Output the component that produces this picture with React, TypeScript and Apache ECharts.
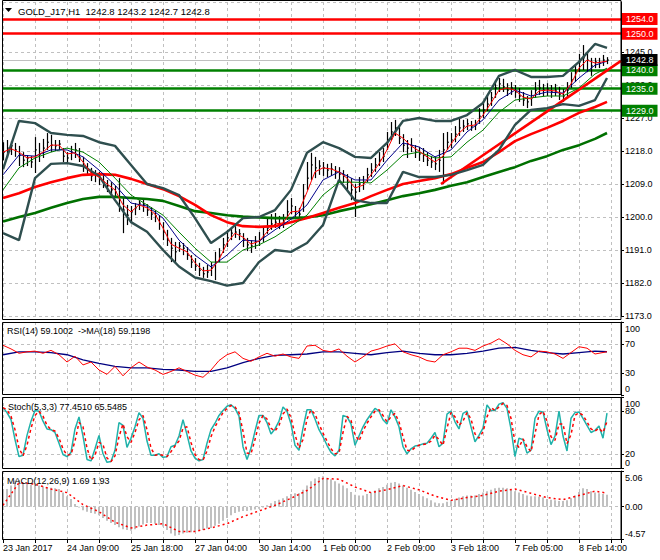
import React, { useEffect, useRef } from "react";
import * as echarts from "echarts";

const FONT = '"Liberation Sans", Arial, sans-serif';
const GRID_COLOR = "#c0c0c0";
const LAST_BAR = 302;
const X_MAX = 309;

const TIME_LABELS = ["23 Jan 2017", "24 Jan 09:00", "25 Jan 18:00", "27 Jan 04:00", "30 Jan 14:00", "1 Feb 00:00", "2 Feb 09:00", "3 Feb 18:00", "7 Feb 05:00", "8 Feb 14:00"];
const TIME_LABEL_EVERY = 32;

// H1 bars, one every 2 bars
const barHigh = [
  1220.4,1221.0,1220.7,1220.2,1219.4,1217.7,1216.9,1216.6,1221.8,1220.2,
  1221.3,1222.9,1222.4,1221.0,1221.0,1218.8,1217.7,1219.4,1220.2,1218.8,
  1216.4,1214.7,1213.4,1212.8,1212.3,1211.5,1210.1,1209.5,1208.5,1210.6,
  1205.2,1203.3,1203.0,1203.8,1204.6,1204.9,1203.5,1202.7,1201.9,1200.5,
  1198.6,1196.5,1194.3,1193.2,1193.2,1192.9,1191.8,1189.6,1188.8,1187.5,
  1186.4,1186.9,1187.7,1190.5,1191.5,1194.3,1196.5,1197.3,1197.5,1196.7,
  1195.6,1194.3,1193.7,1194.8,1195.9,1197.0,1199.7,1200.8,1201.1,1200.3,
  1200.8,1204.6,1205.2,1203.0,1202.5,1209.0,1215.0,1217.5,1216.4,1215.5,
  1215.0,1214.5,1214.7,1213.9,1213.6,1212.8,1211.7,1210.6,1209.0,1210.9,
  1211.2,1213.4,1214.7,1216.1,1217.7,1218.8,1223.2,1225.9,1226.5,1224.8,
  1222.6,1221.0,1221.5,1219.6,1219.1,1218.8,1217.7,1216.6,1216.4,1218.3,
  1222.9,1223.2,1222.9,1224.8,1227.0,1226.5,1226.7,1226.2,1226.5,1229.7,
  1231.6,1233.0,1234.1,1237.4,1237.9,1237.7,1236.5,1236.8,1236.0,1235.2,
  1234.1,1233.0,1234.6,1236.8,1237.4,1236.3,1236.5,1236.0,1236.3,1235.5,
  1234.9,1236.8,1239.5,1241.7,1244.5,1246.9,1245.0,1243.4,1243.4,1243.4,
  1244.2,1243.6,
];
const barLow = [
  1215.5,1216.1,1216.9,1216.4,1213.9,1213.6,1213.9,1213.4,1212.0,1215.0,
  1216.1,1218.3,1217.7,1218.0,1218.3,1215.0,1214.7,1215.5,1216.1,1215.0,
  1212.3,1211.2,1209.8,1209.5,1208.7,1207.9,1206.8,1205.7,1205.2,1201.4,
  1195.6,1197.8,1198.6,1200.5,1201.9,1201.4,1200.3,1199.2,1198.6,1196.5,
  1193.7,1192.1,1187.7,1187.5,1190.5,1189.6,1188.3,1186.1,1185.3,1183.9,
  1183.4,1183.4,1183.9,1182.8,1187.7,1190.2,1191.8,1193.7,1194.3,1193.7,
  1191.8,1190.7,1190.2,1191.3,1192.1,1193.2,1195.4,1196.5,1197.0,1196.7,
  1197.0,1199.2,1200.8,1199.4,1199.2,1201.4,1207.4,1210.1,1210.6,1211.5,
  1211.2,1210.9,1211.2,1210.4,1209.5,1209.3,1207.4,1204.6,1200.0,1206.8,
  1207.4,1209.5,1210.9,1212.3,1213.9,1215.0,1218.3,1221.0,1222.1,1219.9,
  1217.7,1216.1,1217.7,1216.1,1215.3,1215.0,1213.9,1213.4,1212.8,1212.3,
  1209.0,1218.3,1218.8,1220.4,1222.1,1223.2,1223.7,1223.5,1223.7,1225.4,
  1227.0,1228.9,1230.3,1232.5,1234.1,1234.1,1233.0,1233.3,1232.5,1231.4,
  1230.3,1229.7,1230.3,1232.5,1233.3,1233.0,1233.0,1232.5,1233.0,1231.9,
  1231.4,1232.7,1235.2,1236.8,1239.5,1240.1,1239.5,1238.5,1240.6,1240.6,
  1241.2,1241.7,
];
const barClose = [
  1217.7,1218.8,1219.4,1218.3,1216.9,1215.5,1216.1,1215.0,1218.3,1217.2,
  1218.8,1220.4,1219.6,1219.4,1219.9,1216.6,1216.1,1217.7,1218.3,1216.1,
  1213.9,1212.8,1211.2,1211.5,1210.6,1209.5,1208.5,1207.4,1206.8,1204.6,
  1201.9,1200.5,1201.4,1202.5,1203.8,1203.5,1201.9,1200.8,1200.3,1198.1,
  1195.9,1193.7,1191.5,1190.5,1192.1,1191.5,1189.6,1187.7,1186.6,1185.5,
  1184.5,1185.0,1186.1,1187.7,1189.6,1192.4,1194.3,1195.6,1195.9,1195.4,
  1193.7,1192.4,1192.1,1193.2,1193.7,1194.8,1197.0,1198.1,1198.6,1198.1,
  1198.6,1201.4,1203.0,1201.4,1200.8,1205.7,1210.6,1214.2,1213.4,1213.9,
  1213.4,1212.8,1213.1,1212.3,1211.7,1211.2,1209.5,1207.4,1206.8,1209.0,
  1209.5,1211.5,1212.8,1214.2,1215.5,1216.6,1221.0,1223.2,1224.3,1221.5,
  1219.6,1218.8,1219.4,1217.7,1217.2,1216.9,1215.5,1215.0,1214.5,1215.5,
  1218.3,1220.4,1221.0,1222.6,1224.3,1224.8,1225.4,1224.8,1225.1,1227.5,
  1229.2,1230.8,1232.5,1235.2,1236.3,1235.5,1234.6,1235.2,1234.1,1233.0,
  1231.9,1231.4,1232.5,1234.6,1235.2,1234.6,1234.9,1234.1,1234.6,1233.5,
  1233.0,1234.6,1237.4,1239.5,1242.3,1243.4,1242.8,1241.2,1242.3,1242.0,
  1242.8,1242.8,
];

// moving averages (fast one every 4 bars, others every 8 bars)
const fastMA = [
  1217.7,1218.6,1217.7,1216.1,1216.4,1217.7,1219.6,1219.6,1217.2,1217.5,
  1215.0,1212.0,1210.9,1209.0,1207.4,1203.3,1201.4,1203.3,1202.5,1200.8,
  1197.0,1192.6,1191.5,1190.5,1187.5,1185.3,1185.5,1188.3,1192.9,1195.6,
  1194.5,1192.6,1193.4,1195.9,1198.1,1198.4,1201.4,1201.6,1206.8,1212.3,
  1213.4,1213.1,1212.3,1210.6,1207.9,1208.7,1211.5,1214.5,1218.3,1222.9,
  1221.5,1219.4,1218.0,1216.4,1215.0,1216.6,1219.9,1222.9,1224.8,1225.1,
  1227.8,1231.1,1234.6,1235.2,1234.6,1232.7,1232.2,1234.4,1234.6,1234.4,
  1233.5,1236.3,1240.6,1242.8,1242.0,1242.5,
];
const midMA = [1211.5,1216.9,1216.6,1218.3,1218.3,1216.4,1212.8,1208.7,1203.8,1203.0,1199.7,1193.7,1189.6,1186.4,1189.6,1193.7,1193.4,1196.5,1199.4,1203.3,1210.1,1212.3,1210.1,1210.1,1215.5,1220.2,1219.1,1216.4,1218.3,1223.2,1226.5,1231.9,1234.6,1233.0,1234.1,1233.8,1237.9,1241.4,1242.5];
const slowMA = [1207.4,1213.4,1216.1,1217.7,1218.8,1217.7,1215.0,1210.6,1206.0,1203.3,1200.5,1195.9,1191.5,1187.7,1187.7,1191.0,1192.4,1194.6,1197.5,1200.5,1206.0,1209.5,1209.5,1209.3,1212.8,1216.9,1217.7,1216.1,1216.4,1220.4,1223.7,1228.6,1231.9,1232.5,1233.0,1233.0,1235.2,1239.0,1240.6];
const bandUpper = [1213.0,1226.2,1225.6,1222.9,1222.4,1222.1,1220.4,1219.4,1214.2,1209.0,1207.9,1206.0,1199.7,1192.9,1195.9,1199.7,1200.0,1201.9,1207.4,1217.5,1220.4,1218.8,1216.4,1216.1,1220.2,1226.2,1227.0,1226.2,1226.2,1227.8,1231.1,1238.5,1240.1,1238.2,1238.2,1238.5,1242.3,1247.2,1246.1];
const bandLower = [1195.6,1193.7,1210.6,1214.5,1214.7,1213.9,1211.2,1204.6,1198.6,1196.0,1191.0,1186.5,1183.5,1182.5,1181.3,1182.0,1187.7,1191.0,1190.5,1192.9,1197.8,1210.1,1204.6,1203.8,1203.8,1212.3,1210.9,1210.9,1211.5,1212.8,1214.2,1218.3,1225.1,1229.2,1229.7,1230.8,1230.3,1231.9,1237.9];
const ma100 = [1205.2,1206.5,1208.2,1209.5,1210.6,1211.5,1211.7,1211.5,1210.4,1209.0,1207.6,1205.7,1203.3,1200.5,1198.6,1197.5,1197.3,1197.5,1198.6,1199.7,1201.1,1202.5,1203.8,1205.7,1207.4,1209.0,1209.8,1210.6,1211.7,1213.4,1215.0,1217.7,1220.7,1222.6,1224.3,1226.2,1228.4,1230.0,1231.4];
const ma200 = [1198.8,1200.0,1201.1,1202.5,1203.8,1204.9,1205.5,1205.5,1205.2,1204.9,1204.4,1203.0,1201.6,1201.1,1200.5,1200.1,1199.9,1199.7,1199.7,1199.9,1200.5,1201.6,1202.5,1203.5,1204.6,1205.7,1206.5,1207.4,1208.5,1209.5,1210.9,1212.3,1213.6,1215.3,1216.6,1218.3,1219.6,1221.3,1222.9];

// trend line endpoints: [bar index, price]
const trendBars = [219, 309];
const trendPrices = [1209.0, 1242.6];

// horizontal levels
const levelPrices = [1254.0, 1250.0, 1240.0, 1235.0, 1229.0];
const levelColors = ["#ff0000", "#ff0000", "#008000", "#008000", "#008000"];
const bidPrice = 1242.8;

// RSI (every 4 bars) and its MA (every 8 bars)
const rsi = [68,63,57,59,60,57,61,55,45,53,41,45,34,28,39,26,37,45,38,34,28,32,37,32,27,24,34,47,55,59,50,46,52,57,53,56,52,50,67,68,61,59,63,53,45,52,60,63,67,70,59,55,52,47,45,55,59,64,64,61,67,71,77,70,61,55,52,60,59,56,50,58,66,64,56,59.1];
const rsiMA = [55,59,59,58,55,48,43,39,37,37,35,34,32,32,37,44,50,54,55,56,59,59,57,55,58,60,57,55,55,57,60,64,65,61,58,56,58,60,59.12];

// Stochastic (every 2 bars)
const stochMain = [
  85,78,68,40,16,18,46,66,81,80, 66,55,54,50,35,19,16,22,55,72,
  45,12,10,27,46,20,8,9,25,64, 60,29,42,58,78,70,38,18,18,20,
  15,16,30,32,45,68,47,24,14,10, 12,35,54,63,74,81,87,89,84,73,
  30,12,28,52,74,74,64,48,55,66, 86,80,62,32,25,56,82,82,69,54,
  44,32,22,17,25,74,72,62,32,45, 58,68,76,84,80,68,62,82,72,58,
  30,20,27,31,32,34,35,42,50,30, 35,76,80,65,55,77,80,58,37,46,
  56,89,81,81,90,92,84,55,16,42, 40,21,25,70,80,79,54,33,45,80,
  45,24,70,78,79,70,60,50,53,59, 42,77.45,
];
const stochSignal = [
  85,82,73,54,28,17,32,56,74,80, 73,60,54,52,42,27,18,19,38,64,
  58,28,11,18,36,33,14,9,17,44, 62,44,36,50,68,74,54,28,18,19,
  18,16,23,31,38,56,58,36,19,12, 11,24,44,58,68,78,84,88,86,78,
  52,21,20,40,63,74,69,56,52,60, 76,83,71,47,28,40,69,82,76,62,
  49,38,27,20,21,50,73,67,47,38, 52,63,72,80,82,74,65,72,77,65,
  44,25,24,29,32,33,34,38,46,40, 32,56,78,72,60,66,78,69,48,42,
  51,72,85,81,86,91,88,70,36,29, 41,30,23,48,75,80,66,44,39,62,
  62,34,47,74,78,74,65,55,52,56, 50,65.55,
];

// MACD histogram (every 2 bars) and signal (every 8 bars)
const macdHist = [
  2.2,2.5,3.0,3.7,3.8,3.4,3.2,3.1,3.1,3.0, 2.9,2.8,2.7,2.6,2.5,2.0,1.5,1.1,0.4,-0.1,
  -0.5,-0.7,-0.9,-1.0,-1.2,-1.6,-2.0,-2.3,-2.6,-2.9, -3.2,-3.3,-3.4,-3.2,-2.8,-2.5,-2.3,-2.3,-2.4,-2.6,
  -2.8,-3.3,-3.8,-4.1,-4.0,-3.8,-3.7,-3.6,-3.5,-3.4, -3.3,-3.1,-3.0,-2.7,-2.4,-2.0,-1.6,-1.2,-0.9,-0.7,
  -0.6,-0.6,-0.5,-0.4,-0.3,-0.1,0.2,0.5,0.8,1.0, 1.2,1.5,1.8,1.9,1.9,2.4,3.0,3.6,4.0,4.2,
  4.3,4.1,3.9,3.6,3.3,3.0,2.6,2.1,1.7,1.6, 1.6,1.8,2.0,2.3,2.6,2.8,3.1,3.4,3.5,3.3,
  3.0,2.7,2.4,2.1,1.8,1.5,1.2,0.9,0.6,0.5, 0.5,0.7,0.9,1.1,1.3,1.5,1.6,1.6,1.6,1.8,
  2.0,2.2,2.4,2.6,2.7,2.7,2.6,2.4,2.2,2.0, 1.8,1.6,1.5,1.5,1.4,1.3,1.1,1.0,0.9,0.8,
  0.8,0.9,1.2,1.6,2.1,2.6,2.5,2.2,2.0,1.9, 1.8,1.69,
];
const macdSignal = [0.2,3.4,3.2,2.5,2.0,0.3,-0.7,-2.2,-3.0,-2.6,-2.4,-3.5,-3.5,-3.0,-2.4,-1.4,-0.6,0.2,1.2,2.3,4.0,3.9,2.8,2.0,2.4,3.0,2.4,1.5,0.9,1.3,1.6,2.2,2.5,1.9,1.3,1.0,1.6,2.2,1.93];

// sub-window scales: [min, max], dashed levels, inner tick labels
const RSI_RANGE = [0, 100];
const RSI_LEVELS = [30, 70];
const STOCH_RANGE = [0, 100];
const STOCH_LEVELS = [20, 80];
const MACD_RANGE = [-4.57, 5.06];
const MACD_LEVELS = [0];

function pts(values: number[], step: number) {
  return values.map((v, k) => [k === values.length - 1 ? LAST_BAR : k * step, v]);
}

const labelBase = { fontSize: 9, color: "#000", fontFamily: FONT };

function subYAxis(grid: number, range: number[], levels: number[], digits: number) {
  return {
    type: "value", gridIndex: grid, position: "right", min: range[0], max: range[1],
    axisLine: { show: true, onZero: false, lineStyle: { color: "#000", width: 1 } },
    axisTick: { show: true, length: 3, customValues: [range[0], ...levels, range[1]], lineStyle: { color: "#000" } },
    axisLabel: { ...labelBase, margin: 4, customValues: levels, hideOverlap: false, formatter: (v: number) => v.toFixed(digits) },
    splitLine: { show: false },
  };
}

// dashed level lines plus the edge tick labels (min / max) of a sub-window
function subMarks(range: number[], levels: number[], digits: number) {
  const edge = (v: number, vAlign: string) => ({
    yAxis: v,
    lineStyle: { color: "rgba(0,0,0,0)", width: 0 },
    label: { show: true, position: "end", distance: 4, formatter: v.toFixed(digits), ...labelBase, verticalAlign: vAlign, padding: vAlign === "top" ? [2, 0, 0, 0] : [0, 0, 1, 0] },
  });
  return {
    silent: true, symbol: ["none", "none"], z: 1, animation: false,
    label: { show: false },
    lineStyle: { color: GRID_COLOR, type: [3, 3], width: 1 },
    data: [
      ...levels.map((v) => ({ yAxis: v })),
      edge(range[1], "top"),
      edge(range[0], "bottom"),
    ],
  };
}

function boxLabel(text: string, bg: string) {
  return { show: true, position: "end", distance: 1, formatter: text, color: "#fff", backgroundColor: bg, padding: [1, 4, 1, 4], lineHeight: 10, fontSize: 9, fontFamily: FONT };
}

function buildOption() {
  const grids = [
    { left: 3, right: 39, top: 2, height: 314 },
    { left: 3, right: 39, top: 322, height: 72.75 },
    { left: 3, right: 39, top: 397, height: 71 },
    { left: 3, right: 39, top: 471, height: 68 },
  ];
  const xAxis = grids.map((_, g) => ({
    type: "value", gridIndex: g, min: 0, max: X_MAX, interval: 16,
    splitLine: { show: true, lineStyle: { color: GRID_COLOR, type: [3, 3], width: 1 } },
    axisLine: { show: g === 3, onZero: false, lineStyle: { color: "#000" } },
    axisTick: { show: g === 3, length: 4, lineStyle: { color: "#000" } },
    axisLabel: {
      show: g === 3, ...labelBase, margin: 4, align: "left",
      formatter: (v: number) => (v % TIME_LABEL_EVERY === 0 && TIME_LABELS[v / TIME_LABEL_EVERY]) || "",
    },
  }));

  const levelLines = {
    silent: true, symbol: ["none", "none"], z: 1, animation: false,
    data: [
      ...levelPrices.map((p, i) => ({
        yAxis: p,
        lineStyle: { color: levelColors[i], width: 2.6, type: "solid" },
        label: boxLabel(p.toFixed(1), levelColors[i]),
      })),
      {
        yAxis: bidPrice,
        lineStyle: { color: "#c0c0c0", width: 1, type: "solid" },
        label: boxLabel(bidPrice.toFixed(1), "#000"),
      },
    ],
  };

  const line = (data: number[][], color: string, width: number, extra: any = {}) => ({
    type: "line", xAxisIndex: 0, yAxisIndex: 0, data, showSymbol: false, symbol: "none",
    lineStyle: { color, width }, z: 3, silent: true, ...extra,
  });

  return {
    animation: false,
    backgroundColor: "#ffffff",
    grid: grids,
    xAxis,
    yAxis: [
      {
        type: "value", gridIndex: 0, position: "right", min: 1173, max: 1258.64, interval: 9,
        axisLine: { show: true, onZero: false, lineStyle: { color: "#000" } },
        axisTick: { show: true, length: 3, lineStyle: { color: "#000" } },
        axisLabel: { ...labelBase, margin: 4, showMaxLabel: false, formatter: (v: number) => v.toFixed(1) },
        splitLine: { show: true, lineStyle: { color: GRID_COLOR, type: [3, 3], width: 1 } },
      },
      subYAxis(1, RSI_RANGE, RSI_LEVELS, 0),
      subYAxis(2, STOCH_RANGE, STOCH_LEVELS, 0),
      subYAxis(3, MACD_RANGE, MACD_LEVELS, 2),
    ],
    series: [
      line(pts(ma200, 8), "#007000", 2.6, { markLine: levelLines }),
      {
        type: "custom", xAxisIndex: 0, yAxisIndex: 0, z: 2, silent: true, clip: true,
        data: barHigh.map((h, k) => [k * 2, h, barLow[k], barClose[k]]),
        encode: { x: 0, y: [1, 2, 3] },
        renderItem: (params: any, api: any) => {
          const i = api.value(0);
          const hi = api.coord([i, api.value(1)]);
          const lo = api.coord([i, api.value(2)]);
          const cl = api.coord([i, api.value(3)]);
          const x = Math.round(hi[0]) + 0.5;
          return {
            type: "group",
            children: [
              { type: "line", shape: { x1: x, y1: hi[1], x2: x, y2: lo[1] }, style: { stroke: "#000", lineWidth: 1.2 } },
              { type: "line", shape: { x1: x, y1: cl[1], x2: x + 1.5, y2: cl[1] }, style: { stroke: "#000", lineWidth: 1 } },
            ],
          };
        },
      },
      line(pts(ma100, 8), "#ff0000", 2.6),
      line(trendBars.map((b, i) => [b, trendPrices[i]]), "#ff0000", 2.6),
      line(pts(bandUpper, 8), "#2f4f4f", 2.4),
      line(pts(bandLower, 8), "#2f4f4f", 2.4),
      line(pts(slowMA, 8), "#008000", 1),
      line(pts(midMA, 8), "#00008b", 1),
      line(pts(fastMA, 4), "#ff0000", 1),

      { type: "line", xAxisIndex: 1, yAxisIndex: 1, data: pts(rsiMA, 8), showSymbol: false, symbol: "none", lineStyle: { color: "#000080", width: 1.3 }, z: 3, silent: true, markLine: subMarks(RSI_RANGE, RSI_LEVELS, 0) },
      { type: "line", xAxisIndex: 1, yAxisIndex: 1, data: pts(rsi, 4), showSymbol: false, symbol: "none", lineStyle: { color: "#ff0000", width: 1 }, z: 3, silent: true },

      { type: "line", xAxisIndex: 2, yAxisIndex: 2, data: pts(stochMain, 2), showSymbol: false, symbol: "none", lineStyle: { color: "#20b2aa", width: 1.5 }, z: 3, silent: true, markLine: subMarks(STOCH_RANGE, STOCH_LEVELS, 0) },
      { type: "line", xAxisIndex: 2, yAxisIndex: 2, data: pts(stochSignal, 2), showSymbol: false, symbol: "none", lineStyle: { color: "#ff0000", width: 1.5, type: [3, 3] }, z: 4, silent: true },

      { type: "bar", xAxisIndex: 3, yAxisIndex: 3, data: pts(macdHist, 2), barWidth: 2, itemStyle: { color: "#c0c0c0" }, z: 2, silent: true, markLine: subMarks(MACD_RANGE, MACD_LEVELS, 2) },
      { type: "line", xAxisIndex: 3, yAxisIndex: 3, data: pts(macdSignal, 8), showSymbol: false, symbol: "none", lineStyle: { color: "#ff0000", width: 1.5, type: [2, 3] }, z: 3, silent: true },
    ],
    graphic: [
      { type: "rect", silent: true, z: 100, shape: { x: 2.5, y: 0.5, width: 618.5, height: 319 }, style: { fill: "none", stroke: "#000", lineWidth: 1 } },
      { type: "rect", silent: true, z: 100, shape: { x: 2.5, y: 322.5, width: 618.5, height: 72 }, style: { fill: "none", stroke: "#000", lineWidth: 1 } },
      { type: "rect", silent: true, z: 100, shape: { x: 2.5, y: 397.5, width: 618.5, height: 71 }, style: { fill: "none", stroke: "#000", lineWidth: 1 } },
      { type: "rect", silent: true, z: 100, shape: { x: 2.5, y: 471.5, width: 618.5, height: 68 }, style: { fill: "none", stroke: "#000", lineWidth: 1 } },
      { type: "polygon", silent: true, z: 100, shape: { points: [[5, 8], [12, 8], [8.5, 12]] }, style: { fill: "#000" } },
      { type: "text", silent: true, z: 100, style: { text: "GOLD_J17,H1  1242.8 1243.2 1242.7 1242.8", x: 18, y: 11, fill: "#000", font: `9.5px ${FONT}`, verticalAlign: "middle", textVerticalAlign: "middle" } },
      { type: "text", silent: true, z: 100, style: { text: "RSI(14) 59.1002  ->MA(18) 59.1198", x: 7, y: 331, fill: "#000", font: `9px ${FONT}`, verticalAlign: "middle", textVerticalAlign: "middle" } },
      { type: "text", silent: true, z: 100, style: { text: "Stoch(5,3,3) 77.4510 65.5485", x: 8, y: 407, fill: "#000", font: `9px ${FONT}`, verticalAlign: "middle", textVerticalAlign: "middle" } },
      { type: "text", silent: true, z: 100, style: { text: "MACD(12,26,9) 1.69 1.93", x: 7, y: 481, fill: "#000", font: `9px ${FONT}`, verticalAlign: "middle", textVerticalAlign: "middle" } },
    ],
  };
}

export default function App() {
  const ref = useRef<HTMLDivElement>(null);
  useEffect(() => {
    if (!ref.current) return;
    const chart = echarts.init(ref.current, undefined, { renderer: "svg" });
    chart.setOption(buildOption() as any);
    return () => chart.dispose();
  }, []);
  return <div ref={ref} style={{ position: "absolute", left: 0, top: 0, width: 660, height: 560, background: "#fff" }} />;
}
